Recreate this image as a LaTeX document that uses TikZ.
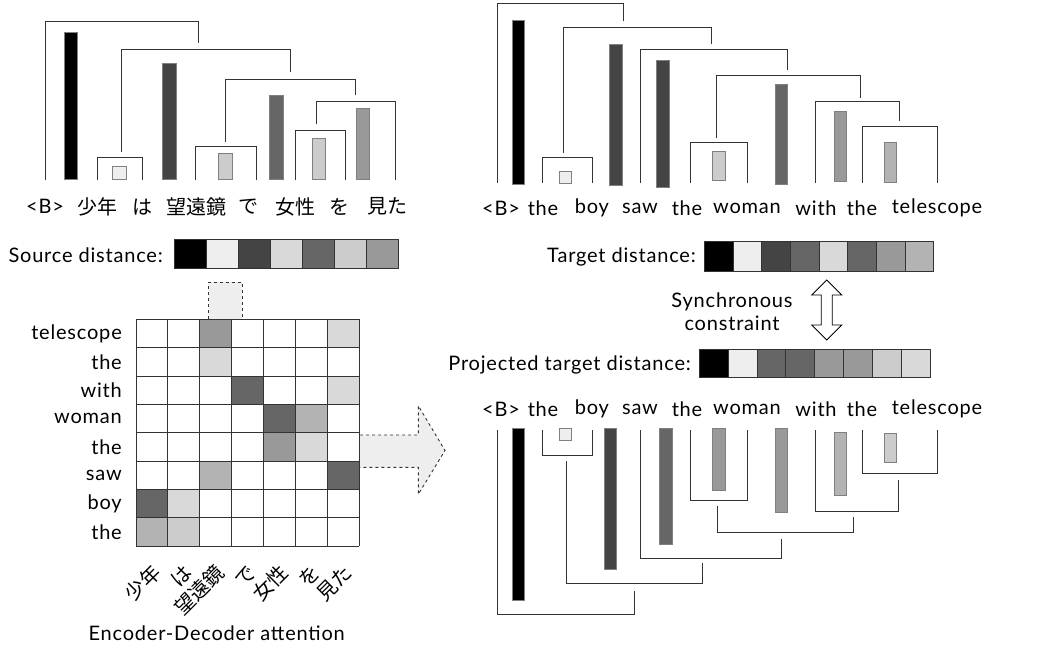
\documentclass[tikz,border=0pt]{standalone}
\usepackage{fontspec}
\setmainfont{Lato}[LetterSpace=4]
\newfontfamily\jp{Noto Sans CJK JP}
\definecolor{gEE}{HTML}{EEEEEE}
\definecolor{gDD}{HTML}{D9D9D9}
\definecolor{gCC}{HTML}{CCCCCC}
\definecolor{gB3}{HTML}{B3B3B3}
\definecolor{g99}{HTML}{999999}
\definecolor{g66}{HTML}{666666}
\definecolor{g44}{HTML}{444444}
\definecolor{lineC}{HTML}{333333}
\tikzset{
  brk/.style={draw=lineC, line width=0.9pt},
  bar/.style={draw=gray, line width=0.6pt},
  txt/.style={inner sep=0pt, font=\fontsize{20}{23}\selectfont},
  jtxt/.style={inner sep=0pt, font=\fontsize{20}{23}\selectfont\jp},
  cell/.style={draw=lineC, line width=0.9pt},
}
\begin{document}
\begin{tikzpicture}[x=1pt,y=-1pt]
\useasboundingbox (0,0) rectangle (1041,649);

% ---------- top-left source tree ----------
\draw[brk] (45.3,180) |- (198.7,21) -- (198.7,43.3);
\filldraw[bar,fill=black] (64,32.3) rectangle (77.7,179.3);
\draw[brk] (121,151.7) |- (290.7,49.7) -- (290.7,72);
\draw[brk] (97.3,180) |- (142.7,157.3) -- (142.7,180);
\filldraw[bar,fill=gEE] (112,166.7) rectangle (126,179.3);
\filldraw[bar,fill=g44] (162.3,63) rectangle (176,179.3);
\draw[brk] (225.7,141.7) |- (355,79.3) -- (355,95);
\draw[brk] (195.7,180) |- (256.7,146.3) -- (256.7,180);
\filldraw[bar,fill=gCC] (218.7,153.7) rectangle (232.3,179.3);
\filldraw[bar,fill=g66] (269.3,95.3) rectangle (283.3,179.3);
\draw[brk] (316.3,124.3) |- (395.3,101.3) -- (395.3,180);
\draw[brk] (295.3,180) |- (345,130.3) -- (345,180);
\filldraw[bar,fill=gCC] (312.7,138.7) rectangle (325.7,179.3);
\filldraw[bar,fill=g99] (356,108.7) rectangle (369.3,179.3);

\node[txt]  (sB)  at (45,206.7)  {<B>};
\node[jtxt] (s1)  at (97,206.7)  {少年};
\node[jtxt] (s2)  at (142,206.7) {は};
\node[jtxt] (s3)  at (196,206.7) {望遠鏡};
\node[jtxt] (s4)  at (248,206.7) {で};
\node[jtxt] (s5)  at (295,206.7) {女性};
\node[jtxt] (s6)  at (339,206.7) {を};
\node[jtxt] (s7)  at (387,206.7) {見た};

% ---------- top-right target tree ----------
\draw[brk] (497.3,182.7) |- (623.7,3.3) -- (623.7,20.7);
\filldraw[bar,fill=black] (512.3,20.7) rectangle (524.3,184.3);
\draw[brk] (563.3,152.7) |- (711.3,27.3) -- (711.3,44.3);
\draw[brk] (542.7,182.7) |- (592.3,157.3) -- (592.3,182.7);
\filldraw[bar,fill=gEE] (559,171.3) rectangle (571.3,183.3);
\filldraw[bar,fill=g44] (609.7,44.3) rectangle (622.3,185.7);
\draw[brk] (640.3,182.7) |- (787.7,49.7) -- (787.7,70.3);
\filldraw[bar,fill=g44] (656.3,60) rectangle (669.3,187);
\draw[brk] (716.7,138.3) |- (860.7,75.7) -- (860.7,97.7);
\draw[brk] (690,182.7) |- (747.3,142.7) -- (747.3,182.7);
\filldraw[bar,fill=gCC] (712.3,151.3) rectangle (725,180.7);
\filldraw[bar,fill=g66] (775,84) rectangle (787.7,184.7);
\draw[brk] (815.7,182.7) |- (899.7,101.7) -- (899.7,120.7);
\filldraw[bar,fill=g99] (834.3,111.3) rectangle (846.7,181.3);
\draw[brk] (862.7,182.7) |- (937.3,126) -- (937.3,182.7);
\filldraw[bar,fill=gB3] (884,142.3) rectangle (896.3,182.7);

\foreach \w/\x [count=\i] in {<B>/501,the/543,boy/592,saw/640,the/687,woman/747,with/816,the/862,telescope/937}
  \node[txt] (t\i) at (\x,208.3) {\w};

% ---------- source distance ----------
\node[txt, anchor=east] (srcd) at (163,255) {Source distance:};
\foreach \c [count=\i from 0] in {black,gEE,g44,gDD,g66,gCC,g99}
  \filldraw[cell, fill=\c] (174+\i*32.04,239.3) rectangle (174+\i*32.04+32.04,268.7);

% ---------- dashed connector box ----------
\fill[gEE] (208.7,282.3) rectangle (242,319.3);
\draw[dashed, draw=lineC, line width=0.9pt] (208.7,319.3) -- (208.7,282.3) -- (242,282.3) -- (242,319.3);

% ---------- attention matrix ----------
\foreach \col/\row/\c in {3/1/g99,7/1/gDD,3/2/gDD,4/3/g66,7/3/gDD,5/4/g66,6/4/gB3,5/5/g99,6/5/gDD,3/6/gB3,7/6/g66,1/7/g66,2/7/gDD,1/8/gB3,2/8/gCC}
  \fill[\c] (136+\col*31.9-31.9,319.3+\row*28.34-28.34) rectangle (136+\col*31.9,319.3+\row*28.34);
\foreach \i in {0,...,7}
  \draw[cell] (136+\i*31.9,319.3) -- (136+\i*31.9,546);
\foreach \j in {0,...,8}
  \draw[cell] (136,319.3+\j*28.34) -- (359.3,319.3+\j*28.34);

\foreach \w [count=\r] in {telescope,the,with,woman,the,saw,boy,the}
  \node[txt, anchor=east] (row\r) at (122,319.3+\r*28.34-14.17) {\w};

\foreach \w [count=\c] in {少年,は,望遠鏡,で,女性,を,見た}
  \node[jtxt, anchor=east, rotate=45] (col\c) at (136+\c*31.9-15.95+5,569) {\w};

\node[txt] (encdec) at (216.7,633) {Encoder-Decoder attention};

% ---------- dashed arrow ----------
\fill[gEE] (360,435) -- (418.3,435) -- (418.3,405.7) -- (445,450.5) -- (418.3,494.3) -- (418.3,467.3) -- (360,467.3) -- cycle;
\draw[dashed, draw=lineC, line width=0.9pt] (360,435) -- (418.3,435) -- (418.3,405.7) -- (445,450.5) -- (418.3,494.3) -- (418.3,467.3) -- (360,467.3);

% ---------- target distance ----------
\node[txt, anchor=east] (tgtd) at (696,256.7) {Target distance:};
\foreach \c [count=\i from 0] in {black,gEE,g44,g66,gDD,g66,g99,gB3}
  \filldraw[cell, fill=\c] (704.3+\i*28.675,241.7) rectangle (704.3+\i*28.675+28.675,271);

% ---------- synchronous constraint ----------
\node[txt, align=center] (sync) at (732,311.5) {Synchronous\\constraint};
\draw[line width=0.8pt, fill=white] (826.7,280) -- (841.7,295) -- (832.2,295) -- (832.2,325) -- (841.7,325) -- (826.7,340) -- (811.7,325) -- (821.2,325) -- (821.2,295) -- (811.7,295) -- cycle;

% ---------- projected target distance ----------
\node[txt, anchor=east] (projd) at (691,365) {Projected target distance:};
\foreach \c [count=\i from 0] in {black,gEE,g66,g66,g99,g99,gCC,gDD}
  \filldraw[cell, fill=\c] (699.3+\i*28.84,349) rectangle (699.3+\i*28.84+28.84,377.7);

% ---------- bottom projected tree ----------
\foreach \w/\x [count=\i] in {<B>/501,the/543,boy/592,saw/640,the/687,woman/747,with/816,the/862,telescope/937}
  \node[txt] (b\i) at (\x,409.3) {\w};

\draw[brk] (497.3,430) |- (634.3,614) -- (634.3,590.7);
\filldraw[bar,fill=black] (512.3,428.3) rectangle (524.3,600.7);
\draw[brk] (542.7,430) |- (592.3,455.3) -- (592.3,430);
\filldraw[bar,fill=gEE] (559,428.3) rectangle (571.3,440.3);
\draw[brk] (566,461.3) |- (702.7,583.3) -- (702.7,563.3);
\filldraw[bar,fill=g44] (604,428.3) rectangle (616.7,569.7);
\draw[brk] (640.3,430) |- (781,558) -- (781,539.3);
\filldraw[bar,fill=g66] (659,428.3) rectangle (672,544.7);
\draw[brk] (690,430) |- (747.3,500.3) -- (747.3,430);
\filldraw[bar,fill=g99] (712.3,428.3) rectangle (725,490.7);
\draw[brk] (717.3,506) |- (853.3,532) -- (853.3,516.7);
\filldraw[bar,fill=g99] (775,428.3) rectangle (787.7,512.7);
\draw[brk] (815.7,430) |- (898.7,511.3) -- (898.7,480);
\filldraw[bar,fill=gB3] (834.3,432.3) rectangle (846.7,495);
\draw[brk] (862.7,430) |- (937.3,473) -- (937.3,430);
\filldraw[bar,fill=gCC] (884,433.7) rectangle (896.3,462.7);
\end{tikzpicture}
\end{document}
